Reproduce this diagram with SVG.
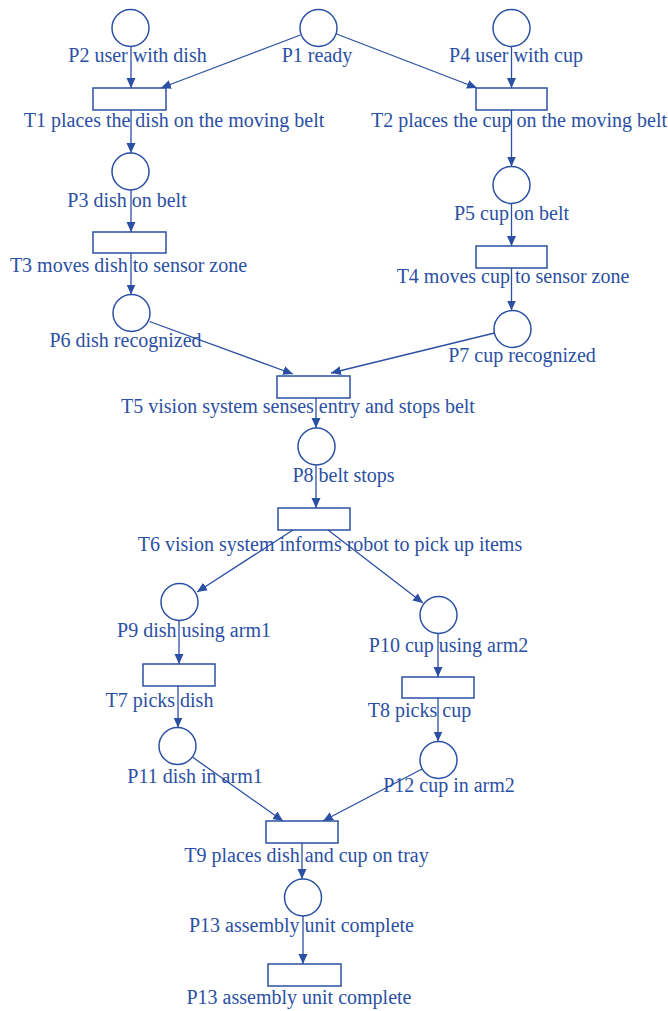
<svg xmlns="http://www.w3.org/2000/svg" width="668" height="1011" viewBox="0 0 668 1011">
<style>
.p{fill:#fff;stroke:#2b50a3;stroke-width:1.5}
.t{fill:#fff;stroke:#2b50a3;stroke-width:1.5}
.a{stroke:#2b50a3;stroke-width:1.3;fill:none;marker-end:url(#ah)}
text{font-family:"Liberation Serif","Times New Roman",serif;font-size:20px;fill:#2b50a3;text-anchor:middle}
</style>
<defs>
<marker id="ah" markerUnits="userSpaceOnUse" markerWidth="11" markerHeight="10" refX="10" refY="4.5" orient="auto">
<path d="M0,0 L10,4.5 L0,9 z" fill="#2b50a3"/>
</marker>
</defs>
<rect width="668" height="1011" fill="#fff"/>
<g id="nodes">
<g id="P1"><circle class="p" cx="318.5" cy="28" r="18.5"/><text x="317" y="62">P1 ready</text></g>
<g id="P2"><circle class="p" cx="130.5" cy="28" r="18.5"/><text x="137.5" y="62">P2 user with dish</text></g>
<g id="P4"><circle class="p" cx="511.5" cy="28" r="18.5"/><text x="516" y="62">P4 user with cup</text></g>
<g id="T1"><rect class="t" x="93" y="88" width="73" height="22"/><text x="174" y="127">T1 places the dish on the moving belt</text></g>
<g id="T2"><rect class="t" x="476" y="88" width="71" height="22"/><text x="519" y="127">T2 places the cup on the moving belt</text></g>
<g id="P3"><circle class="p" cx="130.5" cy="171.5" r="18.5"/><text x="127" y="207">P3 dish on belt</text></g>
<g id="T3"><rect class="t" x="93" y="232" width="73" height="21"/><text x="128.5" y="272">T3 moves dish to sensor zone</text></g>
<g id="P5"><circle class="p" cx="511.5" cy="185" r="18.5"/><text x="511.5" y="220">P5 cup on belt</text></g>
<g id="T4"><rect class="t" x="476" y="246" width="71" height="22"/><text x="513" y="283">T4 moves cup to sensor zone</text></g>
<g id="P6"><circle class="p" cx="131.5" cy="313" r="18.5"/><text x="125.5" y="347">P6 dish recognized</text></g>
<g id="P7"><circle class="p" cx="512.5" cy="329" r="18.5"/><text x="522" y="362">P7 cup recognized</text></g>
<g id="T5"><rect class="t" x="277" y="376" width="73" height="22"/><text x="298" y="413">T5 vision system senses entry and stops belt</text></g>
<g id="P8"><circle class="p" cx="316.5" cy="446.5" r="18.5"/><text x="343.5" y="482">P8 belt stops</text></g>
<g id="T6"><rect class="t" x="278" y="508" width="72" height="22"/><text x="330" y="551">T6 vision system informs robot to pick up items</text></g>
<g id="P9"><circle class="p" cx="179.5" cy="602" r="18.5"/><text x="194" y="637">P9 dish using arm1</text></g>
<g id="P10"><circle class="p" cx="438.5" cy="615" r="18.5"/><text x="448.5" y="652">P10 cup using arm2</text></g>
<g id="T7"><rect class="t" x="143" y="664" width="72" height="22"/><text x="159.5" y="707">T7 picks dish</text></g>
<g id="T8"><rect class="t" x="402" y="677" width="72" height="21"/><text x="419.5" y="717">T8 picks cup</text></g>
<g id="P11"><circle class="p" cx="177.5" cy="746" r="18.5"/><text x="195" y="783">P11 dish in arm1</text></g>
<g id="P12"><circle class="p" cx="438.5" cy="760" r="18.5"/><text x="449" y="792">P12 cup in arm2</text></g>
<g id="T9"><rect class="t" x="266" y="821" width="72" height="22"/><text x="306.5" y="862">T9 places dish and cup on tray</text></g>
<g id="P13"><circle class="p" cx="303" cy="897.5" r="18.5"/><text x="301.5" y="932">P13 assembly unit complete</text></g>
<g id="T10"><rect class="t" x="268" y="964" width="73" height="22"/><text x="299" y="1004">P13 assembly unit complete</text></g>
</g>
<g id="connectors">
<line class="a" x1="131" y1="46.5" x2="131" y2="88"/>
<line class="a" x1="300.5" y1="35" x2="161" y2="88"/>
<line class="a" x1="336.5" y1="34" x2="477" y2="88"/>
<line class="a" x1="511.5" y1="46.5" x2="511.5" y2="88"/>
<line class="a" x1="131" y1="110" x2="131" y2="153"/>
<line class="a" x1="131" y1="190" x2="131" y2="232"/>
<line class="a" x1="131" y1="253" x2="131" y2="294.5"/>
<line class="a" x1="511.5" y1="110" x2="511.5" y2="166.5"/>
<line class="a" x1="511.5" y1="203.5" x2="511.5" y2="246"/>
<line class="a" x1="511.5" y1="268" x2="511.5" y2="310.5"/>
<line class="a" x1="149.5" y1="321.5" x2="293" y2="374"/>
<line class="a" x1="494.5" y1="333" x2="331" y2="373"/>
<line class="a" x1="316" y1="398" x2="316" y2="428"/>
<line class="a" x1="316" y1="465" x2="316" y2="508"/>
<line class="a" x1="293" y1="530" x2="197" y2="592"/>
<line class="a" x1="328" y1="530" x2="423" y2="603"/>
<line class="a" x1="179" y1="620.5" x2="179" y2="664"/>
<line class="a" x1="178" y1="686" x2="178" y2="727.5"/>
<line class="a" x1="438" y1="633.5" x2="438" y2="677"/>
<line class="a" x1="438" y1="698" x2="438" y2="741.5"/>
<line class="a" x1="193" y1="757.5" x2="283" y2="821"/>
<line class="a" x1="422" y1="769" x2="323" y2="821"/>
<line class="a" x1="302" y1="843" x2="302" y2="879"/>
<line class="a" x1="303" y1="916" x2="303" y2="964"/>
</g>
</svg>
